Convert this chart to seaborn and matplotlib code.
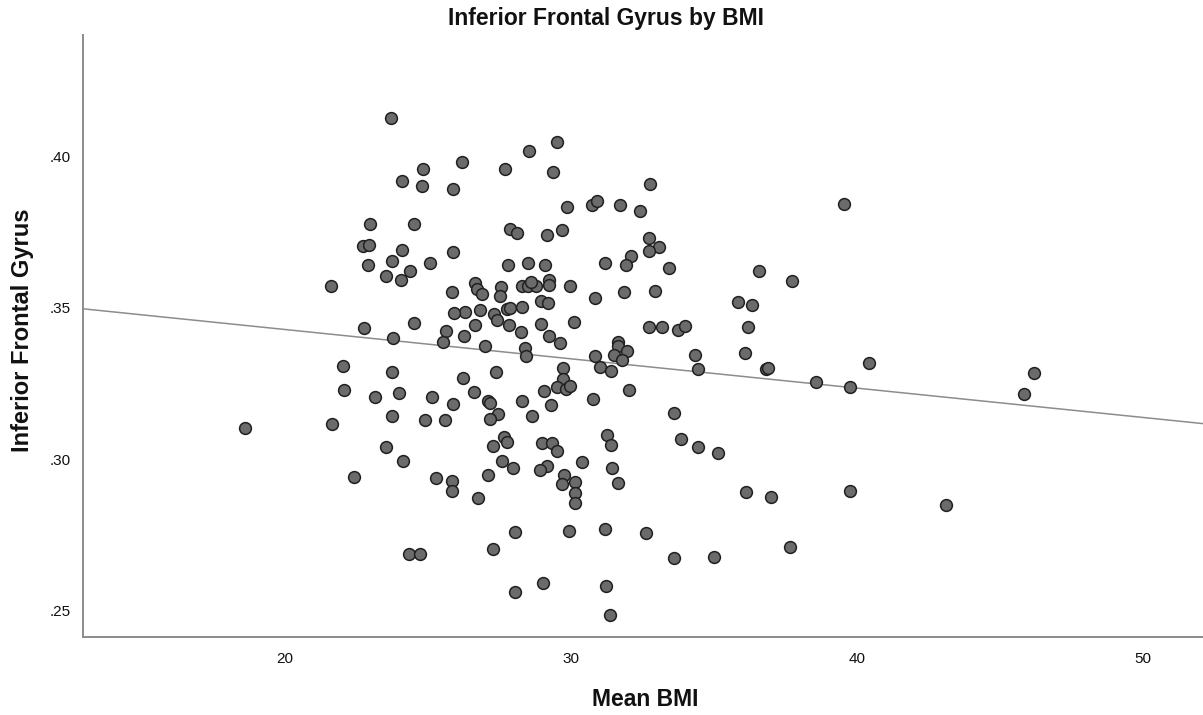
import matplotlib
matplotlib.use("Agg")
import matplotlib.pyplot as plt
from matplotlib.ticker import FuncFormatter
import seaborn as sns
import pandas as pd

# Mean BMI (x) and Inferior Frontal Gyrus value (y)
bmi = [
    23.71, 26.19, 24.83, 24.09, 24.79, 25.87, 22.97, 24.51, 22.73, 22.94,
    24.09, 25.87, 22.90, 23.74, 25.07, 24.37, 23.53, 24.06, 21.61, 25.84,
    29.51, 28.53, 27.69, 29.37, 32.76, 29.86, 30.73, 30.91, 31.71, 32.41,
    27.87, 28.11, 29.16, 29.69, 32.73, 33.08, 32.73, 32.10, 31.92, 31.19,
    27.80, 28.50, 29.09, 33.43, 26.64, 26.71, 26.89, 27.55, 27.52, 28.29,
    28.50, 28.78, 28.60, 29.23, 29.23, 29.97,
    30.84, 31.85, 32.94, 26.29, 26.82, 27.31, 27.41, 27.76,
    27.87, 28.29, 28.95, 29.20, 26.64, 27.83, 28.25, 28.95,
    30.10, 29.23, 29.62, 26.26, 26.99, 28.39, 28.43, 30.84,
    32.73, 33.18, 33.74, 33.99, 31.64, 31.64, 31.50, 31.96,
    31.78, 31.01, 31.40, 34.34, 34.44, 29.72, 29.72, 29.51,
    29.83, 29.97, 26.22, 27.38, 29.06, 30.77, 32.03, 26.61,
    27.10, 27.17, 28.29, 29.30, 27.45, 27.17, 28.64, 33.60,
    31.26, 31.40, 27.66, 27.76, 27.27, 28.99, 29.34, 29.51,
    33.85, 34.44, 27.59, 27.97, 29.16, 30.38, 31.43, 28.92,
    25.91, 24.51, 22.76, 23.78, 25.63, 25.52, 22.03, 23.74, 22.06, 23.15,
    23.99, 25.14, 25.87, 23.74, 24.90, 25.59, 18.60, 21.64, 23.53, 24.13,
    22.41, 25.28, 25.84, 25.84, 24.34, 24.72,
    27.10, 29.76, 29.69, 30.14, 30.14, 30.14, 31.64, 26.75, 28.04, 29.93,
    31.19, 32.62, 27.27, 33.60, 29.02, 28.04, 31.22, 31.36,
    39.55, 36.57, 37.73, 35.84, 36.33, 36.19, 36.08, 36.82, 36.89, 38.57,
    39.76, 40.42, 46.19, 45.84,
    35.14, 36.12, 36.99, 39.76, 43.11, 35.00, 37.66,
]
ifg = [
    .4125, .3980, .3957, .3918, .3901, .3891, .3776, .3776, .3703, .3707,
    .3690, .3683, .3641, .3654, .3647, .3621, .3604, .3591, .3571, .3552,
    .4046, .4016, .3957, .3947, .3908, .3832, .3838, .3852, .3838, .3819,
    .3759, .3746, .3740, .3756, .3730, .3700, .3687, .3670, .3641, .3647,
    .3641, .3647, .3641, .3631, .3581, .3562, .3545, .3568, .3538, .3571,
    .3571, .3571, .3585, .3591, .3575, .3571,
    .3532, .3552, .3555, .3486, .3492, .3479, .3459, .3496,
    .3499, .3502, .3522, .3515, .3443, .3443, .3420, .3446,
    .3453, .3407, .3383, .3407, .3374, .3367, .3341, .3341,
    .3436, .3436, .3426, .3440, .3387, .3374, .3344, .3357,
    .3327, .3304, .3291, .3344, .3298, .3301, .3265, .3238,
    .3232, .3242, .3268, .3288, .3225, .3199, .3228, .3222,
    .3192, .3186, .3192, .3179, .3149, .3133, .3143, .3153,
    .3080, .3047, .3074, .3057, .3044, .3054, .3054, .3027,
    .3067, .3041, .2994, .2971, .2978, .2991, .2971, .2965,
    .3482, .3449, .3433, .3400, .3423, .3387, .3308, .3288, .3228, .3205,
    .3219, .3205, .3182, .3143, .3130, .3130, .3103, .3116, .3041, .2994,
    .2942, .2938, .2928, .2896, .2688, .2688,
    .2948, .2948, .2919, .2925, .2889, .2856, .2922, .2872, .2760, .2764,
    .2770, .2757, .2704, .2675, .2592, .2562, .2582, .2487,
    .3842, .3621, .3588, .3519, .3509, .3436, .3350, .3298, .3301, .3255,
    .3238, .3318, .3285, .3215,
    .3021, .2892, .2876, .2896, .2849, .2678, .2711,
]
x_ticks = [20, 30, 40, 50]
y_ticks = [.25, .30, .35, .40]

df = pd.DataFrame({"bmi": bmi, "ifg": ifg})

sns.set_style("white")
plt.rcParams["font.family"] = ["Liberation Sans", "DejaVu Sans"]

fig = plt.figure(figsize=(12.03, 7.15), dpi=100)
ax = fig.add_axes([83 / 1203, 78 / 715, 1120 / 1203, 602 / 715])
ax.set_xlim(12.94, 52.1)
ax.set_ylim(0.2414, 0.4399)

# fit line across the whole axis, like SPSS "fit line at total"
sns.regplot(data=df, x="bmi", y="ifg", scatter=False, ci=None, truncate=False,
            line_kws=dict(color="#8c8c8c", lw=1.1, zorder=1), ax=ax)
sns.scatterplot(data=df, x="bmi", y="ifg", s=72, color="#6b6b6b",
                edgecolor="#202020", linewidth=1.1, zorder=2, ax=ax)
ax.set_xlim(12.94, 52.1)
ax.set_ylim(0.2414, 0.4399)

ax.set_xticks(x_ticks)
ax.set_yticks(y_ticks)
ax.yaxis.set_major_formatter(FuncFormatter(lambda v, p: f"{v:.2f}".lstrip("0")))
ax.tick_params(length=0, labelsize=11, colors="#111111")
ax.tick_params(axis="x", pad=11)
ax.tick_params(axis="y", pad=9)

sns.despine(ax=ax)
for side in ["left", "bottom"]:
    ax.spines[side].set_color("#8c8c8c")
    ax.spines[side].set_linewidth(1.4)

ax.set_xlabel("Mean BMI", fontsize=16.5, fontweight="bold", color="#111111")
ax.set_ylabel("Inferior Frontal Gyrus", fontsize=17, fontweight="bold", color="#111111")
ax.xaxis.label.set_va("center")
ax.yaxis.label.set_va("center")
ax.xaxis.set_label_coords(0.502, -0.103)
ax.yaxis.set_label_coords(-0.054, 0.51)

fig.text(606 / 1203, 1 - 19 / 715, "Inferior Frontal Gyrus by BMI", ha="center",
         va="center", fontsize=16.5, fontweight="bold", color="#111111")

fig.savefig("out.png", dpi=100)
